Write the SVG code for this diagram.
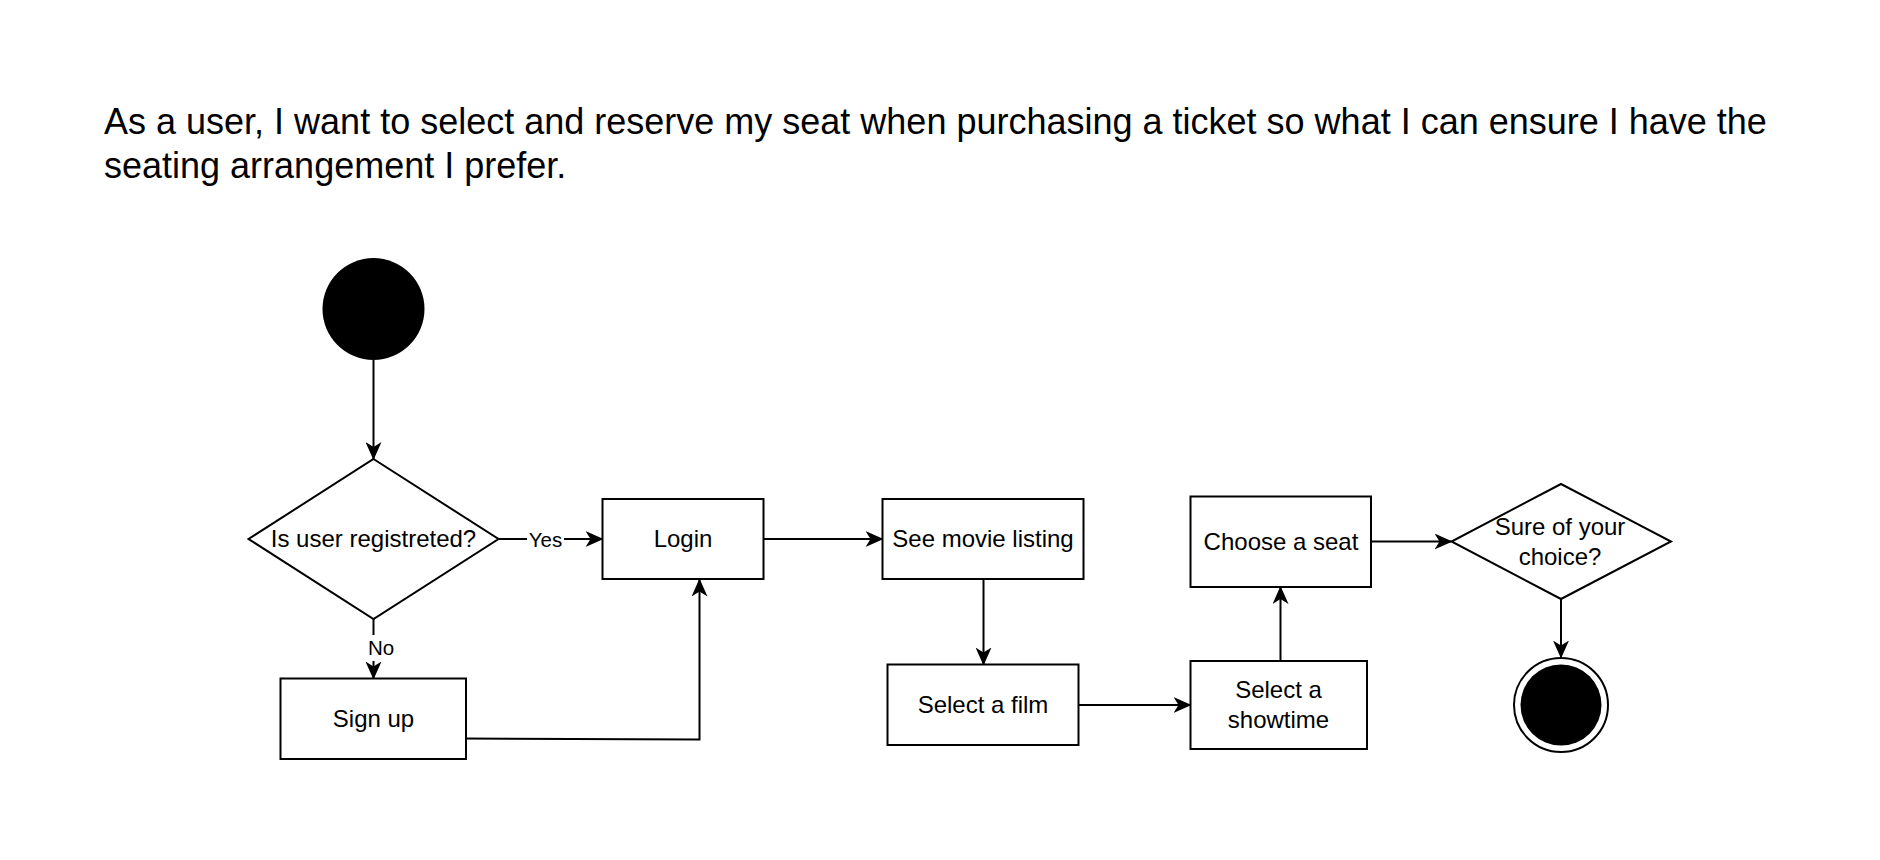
<svg xmlns="http://www.w3.org/2000/svg" width="1880" height="860" viewBox="0 0 1880 860">
<style>
  text { font-family: "Liberation Sans", Arial, Helvetica, sans-serif; fill: #000; }
  .title { font-size: 36px; }
  .lbl { font-size: 24px; text-anchor: middle; }
  .elbl { font-size: 20.5px; text-anchor: middle; }
  .box { fill: #fff; stroke: #000; stroke-width: 2; }
  .edge { fill: none; stroke: #000; stroke-width: 2; marker-end: url(#arr); }
  .bg { fill: #fff; }
</style>
<defs>
  <marker id="arr" viewBox="0 0 18 16" refX="17" refY="8" markerWidth="18" markerHeight="16" markerUnits="userSpaceOnUse" orient="auto">
    <path d="M18,8 L0,0 L5,8 L0,16 Z" fill="#000"/>
  </marker>
</defs>
<rect width="1880" height="860" fill="#fff"/>
<g id="title">
  <text class="title" x="104" y="134">As a user, I want to select and reserve my seat when purchasing a ticket so what I can ensure I have the</text>
  <text class="title" x="104" y="178">seating arrangement I prefer.</text>
</g>
<g id="connectors">
  <line class="edge" x1="373.5" y1="360" x2="373.5" y2="459"/>
  <line class="edge" x1="498.5" y1="539" x2="602.5" y2="539"/>
  <line class="edge" x1="373.5" y1="619" x2="373.5" y2="678.5"/>
  <polyline class="edge" points="463,738.5 699.5,739.5 699.5,579.5"/>
  <line class="edge" x1="763.5" y1="539" x2="882.5" y2="539"/>
  <line class="edge" x1="983.5" y1="579" x2="983.5" y2="664.5"/>
  <line class="edge" x1="1078.5" y1="705" x2="1190.5" y2="705"/>
  <line class="edge" x1="1280.5" y1="661" x2="1280.5" y2="587"/>
  <line class="edge" x1="1371" y1="541.5" x2="1451.5" y2="541.5"/>
  <line class="edge" x1="1561" y1="599" x2="1561" y2="657.5"/>
  <rect class="bg" x="527" y="527" width="37" height="25"/>
  <text class="elbl" x="545.5" y="547">Yes</text>
  <rect class="bg" x="366" y="635" width="29" height="26"/>
  <text class="elbl" x="381" y="655">No</text>
</g>
<g id="start">
  <circle cx="373.5" cy="309" r="51" fill="#000"/>
</g>
<g id="registered">
  <polygon class="box" points="373.5,459 498.5,539 373.5,619 248.5,539"/>
  <text class="lbl" x="373.5" y="547">Is user registreted?</text>
</g>
<g id="signup">
  <rect class="box" x="280.5" y="678.5" width="185.5" height="80.5"/>
  <text class="lbl" x="373.5" y="727">Sign up</text>
</g>
<g id="login">
  <rect class="box" x="602.5" y="499" width="161" height="80"/>
  <text class="lbl" x="683" y="547">Login</text>
</g>
<g id="movielisting">
  <rect class="box" x="882.5" y="499" width="201" height="80"/>
  <text class="lbl" x="983" y="547">See movie listing</text>
</g>
<g id="selectfilm">
  <rect class="box" x="887.5" y="664.5" width="191" height="80.5"/>
  <text class="lbl" x="983" y="713">Select a film</text>
</g>
<g id="showtime">
  <rect class="box" x="1190.5" y="661" width="176.5" height="88"/>
  <text class="lbl" x="1278.5" y="697.5">Select a</text>
  <text class="lbl" x="1278.5" y="727.5">showtime</text>
</g>
<g id="chooseseat">
  <rect class="box" x="1190.5" y="496.5" width="180.5" height="90.5"/>
  <text class="lbl" x="1281" y="550">Choose a seat</text>
</g>
<g id="sure">
  <polygon class="box" points="1561,484 1671,541.5 1561,599 1451.5,541.5"/>
  <text class="lbl" x="1560" y="535">Sure of your</text>
  <text class="lbl" x="1560" y="565">choice?</text>
</g>
<g id="end">
  <circle cx="1561" cy="705" r="47" fill="#fff" stroke="#000" stroke-width="2"/>
  <circle cx="1561" cy="705" r="40.5" fill="#000"/>
</g>
</svg>
